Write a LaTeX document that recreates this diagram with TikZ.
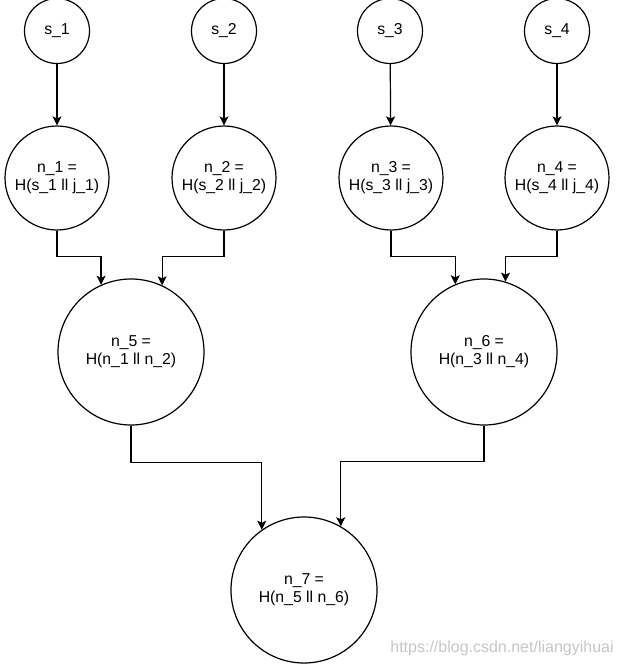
\documentclass[tikz,border=0pt]{standalone}
\usepackage{fontspec}
\setmainfont{Liberation Sans}
\usetikzlibrary{arrows.meta}

\tikzset{
	leaf/.style={draw, circle, line width=1.2pt, minimum size=65pt, inner sep=0pt, align=center, font=\fontsize{15.8}{18}\selectfont},
	hashnode/.style={leaf, minimum size=104pt},
	bignode/.style={leaf, minimum size=146pt},
	arr/.style={line width=1.2pt, -{Stealth[length=9pt,width=9pt,inset=2pt]}},
	wmark/.style={text=black!22, font=\fontsize{16}{18}\selectfont}
}

\begin{document}
\begin{tikzpicture}[x=1pt, y=-1pt]
		\useasboundingbox (0,0) rectangle (622,666);
		
		\node[leaf] (s1) at (57,31) {s\_1};
		\node[leaf] (s2) at (224,31) {s\_2};
		\node[leaf] (s3) at (390,31) {s\_3};
		\node[leaf] (s4) at (557,31) {s\_4};
		
		\node[hashnode] (n1) at (57,178) {n\_1 =\\H(s\_1 ll j\_1)};
		\node[hashnode] (n2) at (224,178) {n\_2 =\\H(s\_2 ll j\_2)};
		\node[hashnode] (n3) at (391,178) {n\_3 =\\H(s\_3 ll j\_3)};
		\node[hashnode] (n4) at (557,178) {n\_4 =\\H(s\_4 ll j\_4)};
		
		\node[bignode] (n5) at (131,352) {n\_5 =\\H(n\_1 ll n\_2)};
		\node[bignode] (n6) at (484,352) {n\_6 =\\H(n\_3 ll n\_4)};
		\node[bignode] (n7) at (304,590) {n\_7 =\\H(n\_5 ll n\_6)};
		
		\draw[arr] (s1) -- (n1);
		\draw[arr] (s2) -- (n2);
		\draw[arr] (s3) -- (n3);
		\draw[arr] (s4) -- (n4);
		
		\draw[arr] (n1.south) -- ++(0,26) -| (n5.114);
		\draw[arr] (n2.south) -- ++(0,26) -| (n5.65);
		\draw[arr] (n3.south) -- ++(0,26) -| (n6.113);
		\draw[arr] (n4.south) -- ++(0,26) -| (n6.73);
		
		\draw[arr] (n5.south) -- ++(0,37) -| (n7.125);
		\draw[arr] (n6.south) -- ++(0,36) -| (n7.60);
		
		\node[wmark] (url) at (502,648) {https://blog.csdn.net/liangyihuai};
		\end{tikzpicture}
\end{document}
